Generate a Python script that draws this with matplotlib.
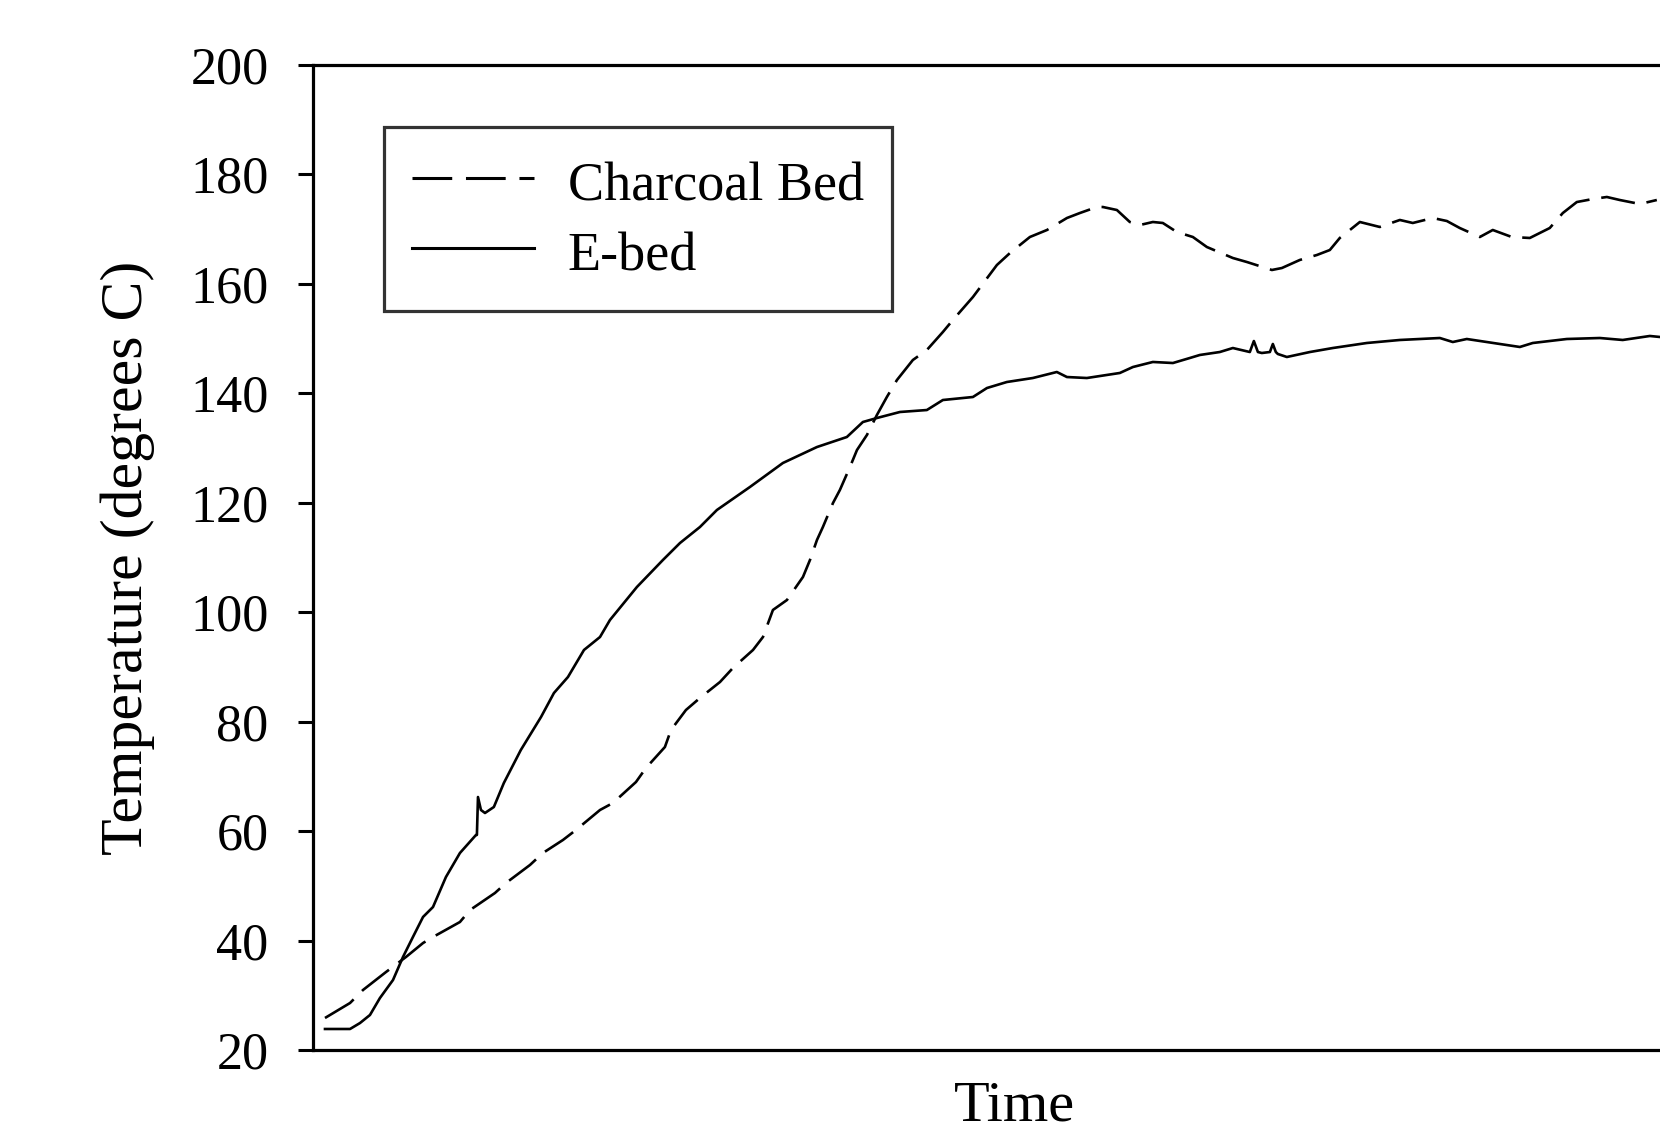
import matplotlib
matplotlib.use("Agg")
import matplotlib.pyplot as plt

plt.rcParams['font.family'] = ['Liberation Serif', 'DejaVu Serif']

# Time (arbitrary units, no ticks shown) and temperatures (degrees C)
ebed_time = [0.89, 2.75, 3.49, 4.23, 4.97, 5.94, 6.68, 7.42, 8.17, 8.91, 9.87, 10.91,
             12.10, 12.17, 12.25, 12.47, 12.77, 13.43, 14.17, 15.43, 16.93, 17.89, 18.93,
             20.12, 21.31, 22.05, 24.05, 25.98, 27.25, 28.73, 29.99, 32.44, 34.89, 37.42,
             39.64, 40.83, 41.87, 43.58, 45.58, 46.77, 49.00, 50.04, 51.52, 53.45, 55.23,
             55.98, 57.46, 59.91, 60.88, 62.36, 63.85, 65.11, 65.85, 67.33, 68.30, 69.56,
             69.86, 70.16, 70.45, 71.05, 71.27, 71.49, 71.64, 72.31, 74.02, 75.72, 78.25,
             80.70, 83.67, 84.63, 85.67, 88.12, 89.61, 90.57, 93.10, 95.55, 97.25, 99.26,
             100.0]
ebed_temp = [23.84, 23.84, 24.93, 26.40, 29.50, 32.79, 36.99, 40.65, 44.31, 46.13, 51.61,
             56.00, 59.29, 59.30, 66.23, 63.86, 63.31, 64.41, 68.79, 74.82, 80.85, 85.24,
             88.16, 93.10, 95.47, 98.58, 104.61, 109.54, 112.65, 115.57, 118.68, 122.88,
             127.27, 130.19, 132.02, 134.76, 135.49, 136.59, 136.95, 138.78, 139.33,
             140.97, 142.07, 142.80, 143.90, 142.98, 142.80, 143.72, 144.81, 145.73,
             145.54, 146.46, 147.01, 147.55, 148.28, 147.55, 149.56, 147.55, 147.37,
             147.55, 149.02, 147.55, 147.19, 146.64, 147.55, 148.28, 149.20, 149.75,
             150.11, 149.38, 149.93, 149.02, 148.47, 149.20, 149.93, 150.11, 149.75,
             150.48, 150.30]

charcoal_time = [0.89, 2.75, 3.71, 5.42, 6.90, 8.17, 8.91, 10.91, 11.66, 13.51, 14.33,
                 16.11, 17.07, 18.56, 19.52, 21.31, 22.27, 23.98, 24.72, 26.13, 26.58,
                 27.69, 28.73, 30.22, 31.18, 32.67, 33.41, 34.15, 35.19, 36.38, 36.90,
                 37.42, 37.86, 38.61, 39.12, 39.87, 40.39, 41.13, 41.87, 42.61, 43.36,
                 44.54, 45.58, 46.77, 47.51, 49.00, 49.67, 50.78, 51.75, 53.23, 54.50,
                 55.98, 56.94, 58.20, 58.65, 59.69, 60.65, 61.40, 62.36, 63.10, 64.14,
                 65.33, 66.37, 68.30, 69.34, 71.20, 71.94, 73.27, 74.54, 75.50, 76.24,
                 76.99, 77.73, 79.21, 80.70, 81.66, 83.15, 84.19, 85.15, 86.64, 87.60,
                 89.01, 90.35, 91.83, 92.80, 93.84, 95.03, 96.07, 97.03, 98.52, 99.78]
charcoal_temp = [25.85, 28.59, 30.96, 34.25, 36.99, 39.55, 40.65, 43.39, 45.58, 48.69,
                 50.52, 53.81, 56.00, 58.38, 60.20, 63.86, 65.14, 68.97, 71.53, 75.37,
                 78.48, 82.13, 84.33, 87.25, 89.81, 93.10, 95.47, 100.41, 102.23, 106.44,
                 109.54, 113.20, 115.57, 119.96, 122.33, 126.54, 129.64, 132.39, 136.04,
                 139.33, 142.44, 146.09, 147.92, 151.21, 153.40, 157.60, 159.80, 163.45,
                 165.64, 168.57, 169.85, 172.04, 172.95, 174.05, 174.05, 173.50, 171.31,
                 170.76, 171.31, 171.13, 169.48, 168.57, 166.74, 164.73, 164.00, 162.54,
                 162.90, 164.37, 165.28, 166.19, 168.39, 169.85, 171.31, 170.40, 171.68,
                 171.13, 172.04, 171.49, 170.21, 168.57, 169.85, 168.57, 168.39, 170.21,
                 172.95, 174.96, 175.51, 175.88, 175.33, 174.60, 175.33]

yticks = [20, 40, 60, 80, 100, 120, 140, 160, 180, 200]
series_labels = ["Charcoal Bed", "E-bed"]

W, H = 1660, 1129
fig = plt.figure(figsize=(W / 100, H / 100), dpi=100)
left_px, right_px, top_px, bottom_px = 313, 1715, 65, 1050
ax = fig.add_axes([left_px / W, 1 - bottom_px / H,
                   (right_px - left_px) / W, (bottom_px - top_px) / H])

ax.plot(charcoal_time, charcoal_temp, color='black', lw=1.9,
        linestyle=(0, (13, 4.5)), label=series_labels[0])
ax.plot(ebed_time, ebed_temp, color='black', lw=1.9, label=series_labels[1])

ax.set_xlim(0, 104.1)
ax.set_ylim(20, 200)
ax.set_yticks(yticks)
ax.set_xticks([])
ax.tick_params(axis='y', direction='out', length=11, width=2.2, pad=21,
               labelsize=37.5)
for side in ['left', 'top', 'bottom']:
    ax.spines[side].set_linewidth(2.3)
ax.spines['right'].set_visible(False)

ax.set_xlabel("Time", fontsize=42)
ax.set_ylabel("Temperature (degrees C)", fontsize=43)
ax.xaxis.set_label_coords((1014 - left_px) / (right_px - left_px), -0.031)
ax.xaxis.label.set_va('top')
ax.yaxis.set_label_coords(-(313 - 155) / (right_px - left_px), 0.5)

leg = ax.legend(loc='upper left',
                bbox_to_anchor=((384 - left_px) / (right_px - left_px),
                                1 - (127 - top_px) / (bottom_px - top_px)),
                borderaxespad=0, fontsize=39, frameon=True, fancybox=False,
                edgecolor='black', handlelength=2.25, handletextpad=0.62,
                labelspacing=0.25, borderpad=0.52, handleheight=1.14)
leg.get_frame().set_linewidth(2.3)
for line in leg.get_lines():
    line.set_linewidth(2.2)

fig.savefig("out.png", dpi=100)
